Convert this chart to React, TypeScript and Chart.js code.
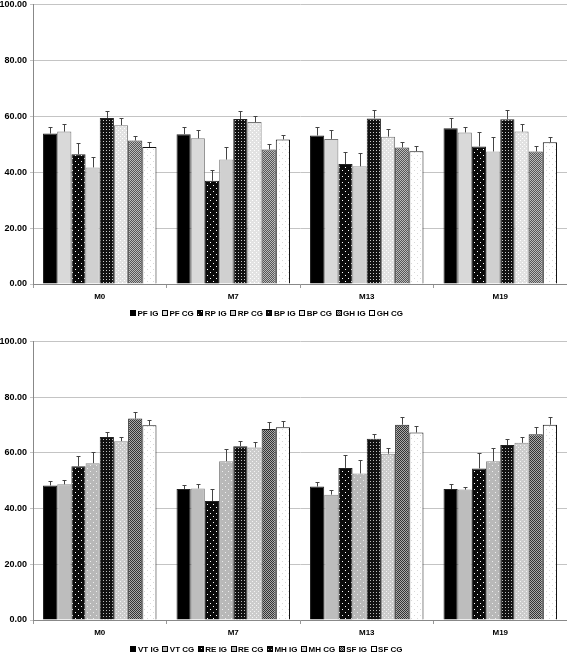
import React, { useEffect, useRef } from "react";
import { Chart, registerables } from "chart.js";
Chart.register(...registerables);

const categories = ["M0", "M7", "M13", "M19"];
const yTickStep = 20;
const yMin = 0;
const yMax = 100;

// Top chart
const topLabels = ["PF IG", "PF CG", "RP IG", "RP CG", "BP IG", "BP CG", "GH IG", "GH CG"];
const pfIG = [53.8, 53.6, 53.1, 55.7];
const pfCG = [54.5, 52.1, 51.9, 54.2];
const rpIG = [46.4, 36.9, 42.9, 49.2];
const rpCG = [41.7, 44.5, 42.1, 47.4];
const bpIG = [59.4, 59.0, 59.2, 58.9];
const bpCG = [56.8, 57.9, 52.7, 54.5];
const ghIG = [51.3, 48.1, 48.8, 47.4];
const ghCG = [49.0, 51.7, 47.5, 50.7];
const pfIGErr = [2.5, 2.7, 3.0, 3.6];
const pfCGErr = [2.6, 2.9, 3.0, 2.1];
const rpIGErr = [4.2, 4.0, 4.4, 5.2];
const rpCGErr = [3.8, 4.5, 4.9, 5.0];
const bpIGErr = [2.4, 3.0, 3.2, 3.5];
const bpCGErr = [2.5, 2.3, 2.6, 2.7];
const ghIGErr = [1.5, 1.9, 2.1, 2.1];
const ghCGErr = [1.7, 1.6, 1.9, 1.9];

// Bottom chart
const bottomLabels = ["VT IG", "VT CG", "RE IG", "RE CG", "MH IG", "MH CG", "SF IG", "SF CG"];
const vtIG = [48.3, 47.0, 47.9, 47.0];
const vtCG = [48.7, 47.2, 45.0, 46.8];
const reIG = [55.2, 42.7, 54.6, 54.4];
const reCG = [56.3, 57.0, 52.6, 57.0];
const mhIG = [65.7, 62.4, 65.1, 62.8];
const mhCG = [64.2, 61.9, 59.7, 63.6];
const sfIG = [72.3, 68.6, 70.1, 66.7];
const sfCG = [69.9, 69.2, 67.3, 70.1];
const vtIGErr = [1.6, 1.6, 1.7, 1.9];
const vtCGErr = [1.7, 1.7, 1.8, 1.0];
const reIGErr = [3.8, 4.4, 4.7, 5.4];
const reCGErr = [4.1, 4.2, 5.0, 4.9];
const mhIGErr = [1.9, 1.9, 1.7, 2.2];
const mhCGErr = [1.6, 2.0, 2.0, 2.2];
const sfIGErr = [2.2, 2.5, 2.7, 2.6];
const sfCGErr = [2.0, 2.4, 2.4, 2.7];

const FONT = "'Liberation Sans', Arial, Helvetica, sans-serif";

type PatSpec = { kind: "solid" | "dots" | "grid" | "checker"; bg: string; fg?: string; step?: number };

function makePattern(spec: PatSpec): CanvasPattern | string {
  if (spec.kind === "solid") return spec.bg;
  const c = document.createElement("canvas");
  const s = spec.step || 4;
  c.width = s;
  c.height = s;
  const ctx = c.getContext("2d")!;
  ctx.fillStyle = spec.bg;
  ctx.fillRect(0, 0, s, s);
  ctx.fillStyle = spec.fg || "#fff";
  if (spec.kind === "dots") {
    ctx.fillRect(0, 0, 1, 1);
    ctx.fillRect(s / 2, s / 2, 1, 1);
  } else if (spec.kind === "grid") {
    ctx.fillRect(1, 1, 1, 1);
  } else {
    ctx.fillRect(0, 0, 1, 1);
    ctx.fillRect(1, 1, 1, 1);
  }
  const ctx2 = document.createElement("canvas").getContext("2d")!;
  return ctx2.createPattern(c, "repeat")!;
}

const topStyles: { pat: PatSpec; border: string }[] = [
  { pat: { kind: "solid", bg: "#000000" }, border: "#222" },
  { pat: { kind: "solid", bg: "#d9d9d9" }, border: "#777" },
  { pat: { kind: "dots", bg: "#0a0a0a", fg: "#ffffff", step: 6 }, border: "#222" },
  { pat: { kind: "solid", bg: "#d0d0d0" }, border: "#999" },
  { pat: { kind: "grid", bg: "#111111", fg: "#cccccc", step: 3 }, border: "#222" },
  { pat: { kind: "dots", bg: "#e2e2e2", fg: "#ffffff", step: 4 }, border: "#777" },
  { pat: { kind: "checker", bg: "#555555", fg: "#bbbbbb", step: 2 }, border: "#333" },
  { pat: { kind: "dots", bg: "#ffffff", fg: "#d8d8d8", step: 6 }, border: "#111" },
];

const bottomStyles: { pat: PatSpec; border: string }[] = [
  { pat: { kind: "solid", bg: "#000000" }, border: "#222" },
  { pat: { kind: "solid", bg: "#bdbdbd" }, border: "#888" },
  { pat: { kind: "dots", bg: "#0a0a0a", fg: "#ffffff", step: 6 }, border: "#222" },
  { pat: { kind: "dots", bg: "#b8b8b8", fg: "#eeeeee", step: 6 }, border: "#888" },
  { pat: { kind: "grid", bg: "#111111", fg: "#bbbbbb", step: 3 }, border: "#222" },
  { pat: { kind: "dots", bg: "#cccccc", fg: "#f4f4f4", step: 4 }, border: "#888" },
  { pat: { kind: "checker", bg: "#333333", fg: "#aaaaaa", step: 2 }, border: "#222" },
  { pat: { kind: "dots", bg: "#ffffff", fg: "#d8d8d8", step: 6 }, border: "#111" },
];

const errorBarPlugin = {
  id: "errorBars",
  afterDatasetsDraw(chart: any) {
    const ctx = chart.ctx;
    const yScale = chart.scales.y;
    ctx.save();
    ctx.strokeStyle = "#444";
    ctx.lineWidth = 1;
    chart.data.datasets.forEach((ds: any, i: number) => {
      const meta = chart.getDatasetMeta(i);
      if (!meta.visible) return;
      meta.data.forEach((el: any, j: number) => {
        const v = ds.data[j];
        const e = ds.errors[j];
        const x = Math.round(el.x) + 0.5;
        const y0 = yScale.getPixelForValue(v);
        const y1 = Math.round(yScale.getPixelForValue(v + e)) + 0.5;
        ctx.beginPath();
        ctx.moveTo(x, y0);
        ctx.lineTo(x, y1);
        ctx.moveTo(x - 2, y1);
        ctx.lineTo(x + 2, y1);
        ctx.stroke();
      });
    });
    ctx.restore();
  },
};

const legendPlugin = {
  id: "customLegend",
  afterDraw(chart: any) {
    const ctx = chart.ctx;
    const items = chart.data.datasets;
    ctx.save();
    ctx.font = `bold 8px ${FONT}`;
    const box = 6;
    const gapBox = 1.5;
    const gapItem = 3.5;
    const widths = items.map((d: any) => ctx.measureText(d.label).width);
    const total =
      widths.reduce((a: number, b: number) => a + b, 0) +
      items.length * (box + gapBox) +
      (items.length - 1) * gapItem;
    let x = chart.width * 0.47 - total / 2;
    const yc = Math.round(chart.chartArea.bottom + 29);
    items.forEach((d: any, i: number) => {
      const bx = Math.round(x);
      ctx.fillStyle = d.backgroundColor;
      ctx.fillRect(bx, yc - 3, box, box);
      ctx.strokeStyle = "#000";
      ctx.lineWidth = 1;
      ctx.strokeRect(bx + 0.5, yc - 2.5, box - 1, box - 1);
      x += box + gapBox;
      ctx.fillStyle = "#000";
      ctx.textBaseline = "middle";
      ctx.textAlign = "left";
      ctx.fillText(d.label, x, yc + 0.5);
      x += widths[i] + gapItem;
    });
    ctx.restore();
  },
};

function BarChart(props: {
  labels: string[];
  values: number[][];
  errors: number[][];
  styles: { pat: PatSpec; border: string }[];
  top: number;
  height: number;
}) {
  const ref = useRef<HTMLCanvasElement>(null);
  useEffect(() => {
    const datasets = props.labels.map((l, i) => ({
      label: l,
      data: props.values[i],
      errors: props.errors[i],
      backgroundColor: makePattern(props.styles[i].pat),
      borderColor: props.styles[i].border,
      borderWidth: 1,
      barPercentage: 1.0,
      categoryPercentage: 0.85,
    }));
    const chart = new Chart(ref.current!, {
      type: "bar",
      data: { labels: categories, datasets: datasets as any },
      plugins: [errorBarPlugin, legendPlugin],
      options: {
        animation: false,
        responsive: false,
        devicePixelRatio: 1,
        layout: { padding: { top: 0, right: 0, left: 0, bottom: 20 } },
        plugins: {
          tooltip: { enabled: false },
          legend: { display: false },
        },
        scales: {
          x: {
            afterFit: (s: any) => {
              s.height = 22;
            },
            grid: {
              display: true,
              offset: true,
              drawOnChartArea: false,
              drawTicks: true,
              tickLength: 4,
              color: "#999",
            },
            border: { color: "#888", width: 1 },
            ticks: {
              color: "#000",
              padding: 4,
              font: { family: FONT, size: 8, weight: "bold" },
            },
          },
          y: {
            min: yMin,
            max: yMax,
            afterFit: (s: any) => {
              s.width = 33;
            },
            grid: { color: "#c4c4c4", tickLength: 3 },
            border: { color: "#888", width: 1 },
            ticks: {
              stepSize: yTickStep,
              color: "#000",
              padding: 3,
              font: { family: FONT, size: 9, weight: "bold" },
              callback: (v: any) => Number(v).toFixed(2),
            },
          },
        },
      } as any,
    });
    return () => chart.destroy();
  }, []);
  return (
    <canvas
      ref={ref}
      width={567}
      height={props.height}
      style={{ position: "absolute", left: 0, top: props.top, width: 567, height: props.height, display: "block" }}
    />
  );
}

export default function App() {
  return (
    <div style={{ position: "absolute", left: 0, top: 0, width: 567, height: 653, background: "#fff", overflow: "hidden" }}>
      <BarChart
        labels={topLabels}
        values={[pfIG, pfCG, rpIG, rpCG, bpIG, bpCG, ghIG, ghCG]}
        errors={[pfIGErr, pfCGErr, rpIGErr, rpCGErr, bpIGErr, bpCGErr, ghIGErr, ghCGErr]}
        styles={topStyles}
        top={-4}
        height={330}
      />
      <BarChart
        labels={bottomLabels}
        values={[vtIG, vtCG, reIG, reCG, mhIG, mhCG, sfIG, sfCG]}
        errors={[vtIGErr, vtCGErr, reIGErr, reCGErr, mhIGErr, mhCGErr, sfIGErr, sfCGErr]}
        styles={bottomStyles}
        top={333}
        height={329}
      />
    </div>
  );
}
